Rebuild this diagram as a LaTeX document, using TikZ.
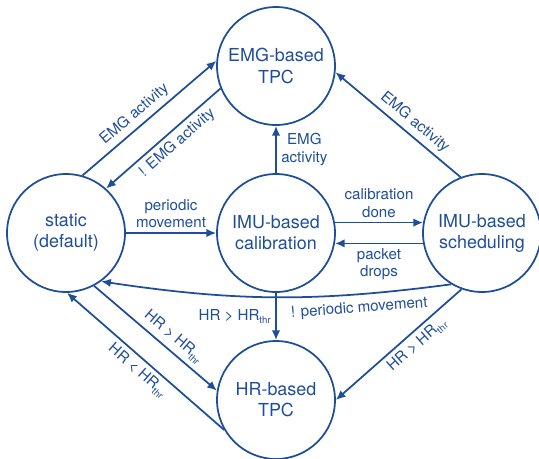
\documentclass[tikz,border=0pt]{standalone}
\usepackage{fontspec}
\setmainfont{TeX Gyre Heros}
\usetikzlibrary{arrows.meta, positioning}
\definecolor{fsmblue}{RGB}{31,78,152}
\newcommand{\hrthr}{HR\raisebox{-0.45ex}{\fontsize{5.5}{6}\selectfont thr}}

\begin{document}
\begin{tikzpicture}[
        x=0.02cm, y=-0.02cm,
        state/.style={circle, draw=fsmblue, line width=1pt, minimum size=2.36cm, inner sep=0pt,
                      align=center, text=fsmblue, font=\fontsize{10.2}{12}\selectfont},
        arrow/.style={-{Latex[length=5.5pt, width=4.8pt]}, line width=1pt, fsmblue},
        lbl/.style={text=fsmblue, font=\fontsize{8.6}{9.8}\selectfont, inner sep=2.5pt, align=center}
    ]
    \useasboundingbox (0,0) rectangle (539,458);

    % states
    \node[state] (emg) at (276,66) {EMG-based\\TPC};
    \node[state] (static) at (66,233) {static\\(default)};
    \node[state] (cal) at (276,233) {IMU-based\\calibration};
    \node[state] (sched) at (482,233) {IMU-based\\scheduling};
    \node[state] (hr) at (276,400) {HR-based\\TPC};

    % static <-> EMG-based TPC
    \draw [arrow] (static.74) -- node[lbl, sloped, above, pos=0.45] (l1) {EMG activity} (emg.175);
    \draw [arrow] (emg.202) -- node[lbl, sloped, below, pos=0.45] (l2) {! EMG activity} (static.48);

    % calibration
    \draw [arrow] (static.east) -- node[lbl, above] (l3) {periodic\\movement} (cal.west);
    \draw [arrow] (cal.north) -- node[lbl, right] (l4) {EMG\\activity} (emg.south);
    \draw [arrow] (cal.10) -- node[lbl, above] (l5) {calibration\\done} (sched.170);
    \draw [arrow] (sched.190) -- node[lbl, below] (l6) {packet\\drops} (cal.-10);
    \draw [arrow] (cal.south) -- node[lbl, left] (l7) {HR > \hrthr} (hr.north);

    % scheduling
    \draw [arrow] (sched.111) -- node[lbl, sloped, above, pos=0.43] (l8) {EMG activity} (emg.-6);
    \draw [arrow] (sched.239) to[bend left=8] node[lbl, sloped, below, pos=0.25, inner sep=3.5pt] (l9) {! periodic movement} (static.306);
    \draw [arrow] (sched.250) -- node[lbl, sloped, below, pos=0.42] (l10) {HR > \hrthr} (hr.0);

    % static <-> HR-based TPC
    \draw [arrow] (static.298) -- node[lbl, sloped, above, pos=0.58] (l11) {HR > \hrthr} (hr.171);
    \draw [arrow] (hr.210) -- node[lbl, sloped, below, pos=0.5] (l12) {HR < \hrthr} (static.271);
\end{tikzpicture}
\end{document}
